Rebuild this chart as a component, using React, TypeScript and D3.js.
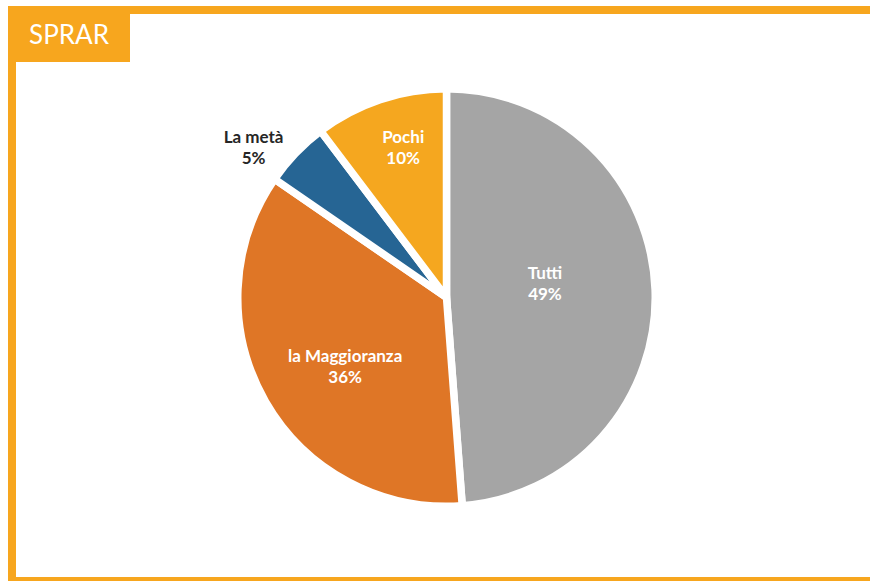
import React from "react";
import * as d3 from "d3";

const categories = ["Tutti", "la Maggioranza", "La metà", "Pochi"];
const shares = [48.8, 35.8, 5.1, 10.3];
const colors = ["#A5A5A5", "#DF7626", "#266594", "#F5A71F"];
const labelColors = ["#FFFFFF", "#FFFFFF", "#262626", "#FFFFFF"];
// label placement: distance as fraction of radius, angular nudge in degrees
const labelRadius = [0.485, 0.6, 1.19, 0.76];
const labelNudge = [-5.8, -4.6, -6, 2.4];
const title = "SPRAR";

const W = 870;
const H = 581;
const FRAME = "#F7A61E";

export default function App() {
  const cx = 446.5;
  const cy = 297.5;
  const r = 205;
  const gap = 7.5;

  const pie = d3
    .pie<number>()
    .sort(null)
    .value((d) => d)
    .startAngle(0)
    .endAngle(2 * Math.PI);
  const arcs = pie(shares);
  const arcGen = d3.arc<d3.PieArcDatum<number>>().innerRadius(0).outerRadius(r + gap / 2);
  const fmt = d3.format(".0f");
  const total = d3.sum(shares);

  return (
    <svg
      width={W}
      height={H}
      style={{ position: "absolute", left: 0, top: 0, background: "#fff" }}
    >
      <rect x={0} y={0} width={W} height={H} fill="#fff" />
      {/* frame */}
      <rect x={12} y={10} width={W + 20} height={H - 10} fill="none" stroke={FRAME} strokeWidth={8} />
      <rect x={8} y={6} width={122} height={56} fill={FRAME} />
      <text
        x={69}
        y={44}
        textAnchor="middle"
        fill="#fff"
        fontFamily="Lato, 'Open Sans', sans-serif"
        fontSize={26}
      >
        {title}
      </text>
      <g transform={`translate(${cx},${cy})`}>
        {arcs.map((a, i) => (
          <path key={i} d={arcGen(a) || ""} fill={colors[i]} stroke="#fff" strokeWidth={gap} strokeLinejoin="miter" />
        ))}
        {arcs.map((a, i) => {
          const mid = (a.startAngle + a.endAngle) / 2 + (labelNudge[i] * Math.PI) / 180;
          const lr = labelRadius[i] * r;
          const x = lr * Math.sin(mid);
          const y = -lr * Math.cos(mid);
          return (
            <text
              key={i}
              textAnchor="middle"
              fill={labelColors[i]}
              fontFamily="Lato, 'Open Sans', sans-serif"
              fontWeight={700}
              fontSize={17}
            >
              <tspan x={x} y={y - 5}>
                {categories[i]}
              </tspan>
              <tspan x={x} y={y + 16}>
                {fmt((shares[i] / total) * 100)}%
              </tspan>
            </text>
          );
        })}
      </g>
    </svg>
  );
}
